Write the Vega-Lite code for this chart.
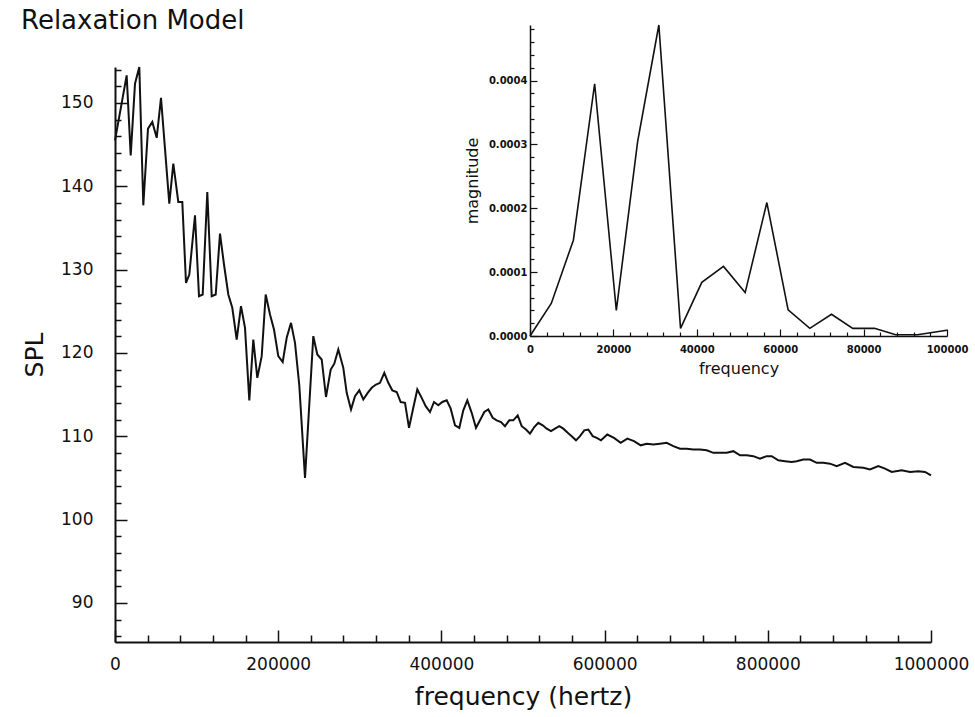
{
  "$schema": "https://vega.github.io/schema/vega-lite/v6.json",
  "width": 816,
  "height": 617,
  "autosize": {"type": "none"},
  "padding": {"left": 115, "top": 25, "right": 44, "bottom": 75},
  "background": "white",
  "title": {"text": "Relaxation Model", "anchor": "start", "frame": "group", "font": "DejaVu Sans", "fontSize": 26, "fontWeight": "normal", "color": "#111", "dx": -94, "dy": 12, "offset": 0},
  "config": {"view": {"stroke": null}},
  "datasets": {
    "spl": [
      {"f": 0, "spl": 145.5}, {"f": 14300, "spl": 153.3}, {"f": 19240, "spl": 143.7}, {"f": 24510, "spl": 152.3},
      {"f": 29780, "spl": 154.3}, {"f": 34680, "spl": 137.7}, {"f": 40440, "spl": 146.9}, {"f": 45710, "spl": 147.7},
      {"f": 51100, "spl": 145.8}, {"f": 56370, "spl": 150.6}, {"f": 66540, "spl": 137.9}, {"f": 71450, "spl": 142.7},
      {"f": 77570, "spl": 138.1}, {"f": 82480, "spl": 138.1}, {"f": 87010, "spl": 128.4}, {"f": 91050, "spl": 129.4},
      {"f": 98040, "spl": 136.5}, {"f": 102940, "spl": 126.8}, {"f": 107480, "spl": 127.0}, {"f": 113110, "spl": 139.3},
      {"f": 118510, "spl": 126.8}, {"f": 123410, "spl": 127.0}, {"f": 128680, "spl": 134.3}, {"f": 133580, "spl": 130.6},
      {"f": 138850, "spl": 127.0}, {"f": 143750, "spl": 125.4}, {"f": 149140, "spl": 121.6}, {"f": 154410, "spl": 125.6},
      {"f": 159320, "spl": 123.0}, {"f": 164590, "spl": 114.3}, {"f": 169490, "spl": 121.6}, {"f": 174390, "spl": 117.0},
      {"f": 179780, "spl": 119.6}, {"f": 184680, "spl": 127.0}, {"f": 189950, "spl": 124.6}, {"f": 194850, "spl": 122.8},
      {"f": 200120, "spl": 119.6}, {"f": 205510, "spl": 118.9}, {"f": 210420, "spl": 121.8}, {"f": 215690, "spl": 123.6},
      {"f": 220590, "spl": 121.2}, {"f": 225860, "spl": 116.1}, {"f": 232850, "spl": 105.0}, {"f": 243020, "spl": 122.0},
      {"f": 247920, "spl": 119.8}, {"f": 253310, "spl": 119.2}, {"f": 258580, "spl": 114.7}, {"f": 264340, "spl": 118.0},
      {"f": 268750, "spl": 118.7}, {"f": 273650, "spl": 120.4}, {"f": 279780, "spl": 118.2}, {"f": 283950, "spl": 115.2},
      {"f": 289220, "spl": 113.2}, {"f": 294120, "spl": 114.8}, {"f": 299390, "spl": 115.5}, {"f": 304290, "spl": 114.4},
      {"f": 309680, "spl": 115.2}, {"f": 314590, "spl": 115.8}, {"f": 319860, "spl": 116.2}, {"f": 324760, "spl": 116.4},
      {"f": 330030, "spl": 117.6}, {"f": 334930, "spl": 116.4}, {"f": 339830, "spl": 115.5}, {"f": 345220, "spl": 115.3},
      {"f": 350130, "spl": 114.1}, {"f": 355400, "spl": 114.0}, {"f": 360300, "spl": 111.0}, {"f": 365570, "spl": 113.4},
      {"f": 370470, "spl": 115.6}, {"f": 375860, "spl": 114.6}, {"f": 380760, "spl": 113.6}, {"f": 386030, "spl": 112.9},
      {"f": 390930, "spl": 114.1}, {"f": 396200, "spl": 113.7}, {"f": 401110, "spl": 114.1}, {"f": 406500, "spl": 114.3},
      {"f": 411400, "spl": 113.3}, {"f": 416670, "spl": 111.3}, {"f": 421940, "spl": 111.0}, {"f": 426840, "spl": 113.1},
      {"f": 431740, "spl": 114.3}, {"f": 437130, "spl": 112.8}, {"f": 442400, "spl": 111.0}, {"f": 447310, "spl": 111.9},
      {"f": 452580, "spl": 112.9}, {"f": 457480, "spl": 113.2}, {"f": 462870, "spl": 112.2}, {"f": 467770, "spl": 111.9},
      {"f": 473040, "spl": 111.7}, {"f": 477940, "spl": 111.2}, {"f": 483210, "spl": 111.9}, {"f": 488120, "spl": 111.9},
      {"f": 493510, "spl": 112.5}, {"f": 498410, "spl": 111.2}, {"f": 503680, "spl": 110.8}, {"f": 508580, "spl": 110.3},
      {"f": 513850, "spl": 111.1}, {"f": 518760, "spl": 111.6}, {"f": 524150, "spl": 111.3}, {"f": 529050, "spl": 110.9},
      {"f": 534320, "spl": 110.6}, {"f": 539220, "spl": 110.9}, {"f": 544490, "spl": 111.2}, {"f": 549400, "spl": 110.9},
      {"f": 554790, "spl": 110.4}, {"f": 559690, "spl": 110.0}, {"f": 564960, "spl": 109.5}, {"f": 569860, "spl": 110.0},
      {"f": 575130, "spl": 110.7}, {"f": 580030, "spl": 110.8}, {"f": 585420, "spl": 110.0}, {"f": 590330, "spl": 109.8},
      {"f": 595600, "spl": 109.5}, {"f": 603310, "spl": 110.2}, {"f": 611520, "spl": 109.8}, {"f": 619730, "spl": 109.2},
      {"f": 627820, "spl": 109.7}, {"f": 636040, "spl": 109.4}, {"f": 644240, "spl": 108.9}, {"f": 651600, "spl": 109.1},
      {"f": 659690, "spl": 109.0}, {"f": 667900, "spl": 109.1}, {"f": 676110, "spl": 109.2}, {"f": 684200, "spl": 108.8},
      {"f": 692410, "spl": 108.5}, {"f": 700620, "spl": 108.5}, {"f": 708710, "spl": 108.4}, {"f": 716920, "spl": 108.4},
      {"f": 725130, "spl": 108.3}, {"f": 733220, "spl": 108.0}, {"f": 741430, "spl": 108.0}, {"f": 749640, "spl": 108.0},
      {"f": 757730, "spl": 108.2}, {"f": 765940, "spl": 107.7}, {"f": 774150, "spl": 107.7}, {"f": 782240, "spl": 107.6},
      {"f": 790450, "spl": 107.3}, {"f": 798660, "spl": 107.6}, {"f": 804790, "spl": 107.6}, {"f": 812870, "spl": 107.1},
      {"f": 821090, "spl": 107.0}, {"f": 829300, "spl": 106.9}, {"f": 835420, "spl": 107.0}, {"f": 843510, "spl": 107.2},
      {"f": 851720, "spl": 107.2}, {"f": 859930, "spl": 106.8}, {"f": 868020, "spl": 106.8}, {"f": 876230, "spl": 106.7},
      {"f": 884440, "spl": 106.4}, {"f": 894620, "spl": 106.8}, {"f": 904790, "spl": 106.3}, {"f": 917050, "spl": 106.2},
      {"f": 925250, "spl": 106.0}, {"f": 935420, "spl": 106.4}, {"f": 943640, "spl": 106.1}, {"f": 951840, "spl": 105.7},
      {"f": 964090, "spl": 105.9}, {"f": 974270, "spl": 105.7}, {"f": 984450, "spl": 105.8}, {"f": 992660, "spl": 105.7},
      {"f": 1000000, "spl": 105.3}
    ],
    "mag": [
      {"f": 0, "mag": 0.0}, {"f": 5100, "mag": 0.000051}, {"f": 10400, "mag": 0.00015}, {"f": 15500, "mag": 0.000395},
      {"f": 20700, "mag": 0.00004}, {"f": 25800, "mag": 0.000304}, {"f": 30900, "mag": 0.000487}, {"f": 36100, "mag": 0.000012},
      {"f": 41200, "mag": 0.000084}, {"f": 46400, "mag": 0.000109}, {"f": 51600, "mag": 0.000068}, {"f": 56800, "mag": 0.000209},
      {"f": 61900, "mag": 0.000041}, {"f": 67100, "mag": 0.000012}, {"f": 72300, "mag": 0.000034}, {"f": 77400, "mag": 0.000012},
      {"f": 82600, "mag": 0.000012}, {"f": 87700, "mag": 0.000002}, {"f": 92900, "mag": 0.000002}, {"f": 98000, "mag": 0.000007},
      {"f": 100000, "mag": 0.000009}
    ]
  },
  "layer": [
    {
      "data": {"name": "spl"},
      "layer": [
        {
          "mark": {"type": "line", "color": "#111", "strokeWidth": 2},
          "encoding": {
            "x": {
              "field": "f", "type": "quantitative",
              "scale": {"domain": [0, 1000000], "nice": false, "zero": false},
              "axis": {
                "orient": "bottom", "title": "frequency (hertz)", "grid": false,
                "values": [0, 200000, 400000, 600000, 800000, 1000000],
                "format": "d", "tickSize": -12,
                "tickColor": "#111", "tickWidth": 1.5, "domainColor": "#111", "domainWidth": 2,
                "labelPadding": 26, "labelFlush": false, "labelOverlap": false, "labelBound": false,
                "labelFont": "DejaVu Sans", "labelFontSize": 17, "labelColor": "#111",
                "titleFont": "DejaVu Sans", "titleFontSize": 25, "titleFontWeight": "normal", "titleColor": "#111", "titlePadding": 12
              }
            },
            "y": {
              "field": "spl", "type": "quantitative",
              "scale": {"domain": [85.3, 154.3], "range": [617, 42], "nice": false, "zero": false},
              "axis": {
                "orient": "left", "title": "SPL", "grid": false,
                "values": [90, 100, 110, 120, 130, 140, 150], "tickSize": -12,
                "tickColor": "#111", "tickWidth": 1.5, "domainColor": "#111", "domainWidth": 2,
                "labelPadding": 34, "labelOverlap": false, "labelBound": false,
                "labelFont": "DejaVu Sans", "labelFontSize": 17, "labelColor": "#111",
                "titleFont": "DejaVu Sans", "titleFontSize": 25, "titleFontWeight": "normal", "titleColor": "#111", "titlePadding": 13
              }
            }
          }
        },
        {
          "mark": {"type": "line", "color": "#111", "strokeWidth": 2, "opacity": 0},
          "encoding": {
            "x": {
              "field": "f", "type": "quantitative",
              "scale": {"domain": [0, 1000000], "nice": false, "zero": false},
              "axis": {
                "orient": "bottom", "title": null, "grid": false, "labels": false, "domain": false,
                "values": [40000, 80000, 120000, 160000, 240000, 280000, 320000, 360000, 440000, 480000, 520000, 560000, 640000, 680000, 720000, 760000, 840000, 880000, 920000, 960000],
                "tickSize": -7, "tickColor": "#111", "tickWidth": 1.5
              }
            },
            "y": {
              "field": "spl", "type": "quantitative",
              "scale": {"domain": [85.3, 154.3], "range": [617, 42], "nice": false, "zero": false},
              "axis": {
                "orient": "left", "title": null, "grid": false, "labels": false, "domain": false,
                "values": [86, 88, 92, 94, 96, 98, 102, 104, 106, 108, 112, 114, 116, 118, 122, 124, 126, 128, 132, 134, 136, 138, 142, 144, 146, 148, 152, 154],
                "tickSize": -6, "tickColor": "#111", "tickWidth": 1.5
              }
            }
          }
        }
      ],
      "resolve": {"axis": {"x": "independent", "y": "independent"}}
    },
    {
      "data": {"name": "mag"},
      "layer": [
        {
          "mark": {"type": "line", "color": "#111", "strokeWidth": 1.6},
          "encoding": {
            "x": {
              "field": "f", "type": "quantitative",
              "scale": {"domain": [0, 100000], "range": [415, 832], "nice": false, "zero": false},
              "axis": {
                "orient": "bottom", "offset": -306, "title": "frequency", "grid": false,
                "values": [0, 20000, 40000, 60000, 80000, 100000],
                "format": "d", "tickSize": -7,
                "tickColor": "#111", "tickWidth": 1.2, "domainColor": "#111", "domainWidth": 1.5,
                "labelPadding": 15, "labelFlush": false, "labelOverlap": false, "labelBound": false,
                "labelFont": "DejaVu Sans", "labelFontWeight": "bold", "labelFontSize": 10, "labelColor": "#111",
                "titleFont": "DejaVu Sans", "titleFontSize": 16, "titleFontWeight": "normal", "titleColor": "#111", "titlePadding": 6
              }
            },
            "y": {
              "field": "mag", "type": "quantitative",
              "scale": {"domain": [0, 0.000487], "range": [311, 0], "nice": false, "zero": false},
              "axis": {
                "orient": "left", "offset": -415, "title": "magnitude", "grid": false,
                "values": [0, 0.0001, 0.0002, 0.0003, 0.0004],
                "format": ".4f", "tickSize": -7,
                "tickColor": "#111", "tickWidth": 1.2, "domainColor": "#111", "domainWidth": 1.5,
                "labelPadding": 10, "labelOverlap": false, "labelBound": false,
                "labelFont": "DejaVu Sans", "labelFontWeight": "bold", "labelFontSize": 10, "labelColor": "#111",
                "titleFont": "DejaVu Sans", "titleFontSize": 16, "titleFontWeight": "normal", "titleColor": "#111", "titlePadding": 8
              }
            }
          }
        },
        {
          "mark": {"type": "line", "color": "#111", "strokeWidth": 1.5, "opacity": 0},
          "encoding": {
            "x": {
              "field": "f", "type": "quantitative",
              "scale": {"domain": [0, 100000], "range": [415, 832], "nice": false, "zero": false},
              "axis": {
                "orient": "bottom", "offset": -306, "title": null, "grid": false, "labels": false, "domain": false,
                "values": [4000, 8000, 12000, 16000, 24000, 28000, 32000, 36000, 44000, 48000, 52000, 56000, 64000, 68000, 72000, 76000, 84000, 88000, 92000, 96000],
                "tickSize": -4, "tickColor": "#111", "tickWidth": 1.2
              }
            },
            "y": {
              "field": "mag", "type": "quantitative",
              "scale": {"domain": [0, 0.000487], "range": [311, 0], "nice": false, "zero": false},
              "axis": {
                "orient": "left", "offset": -415, "title": null, "grid": false, "labels": false, "domain": false,
                "values": [0.00002, 0.00004, 0.00006, 0.00008, 0.00012, 0.00014, 0.00016, 0.00018, 0.00022, 0.00024, 0.00026, 0.00028, 0.00032, 0.00034, 0.00036, 0.00038, 0.00042, 0.00044, 0.00046, 0.00048],
                "tickSize": -4, "tickColor": "#111", "tickWidth": 1.2
              }
            }
          }
        }
      ],
      "resolve": {"axis": {"x": "independent", "y": "independent"}}
    }
  ],
  "resolve": {"scale": {"x": "independent", "y": "independent"}}
}
